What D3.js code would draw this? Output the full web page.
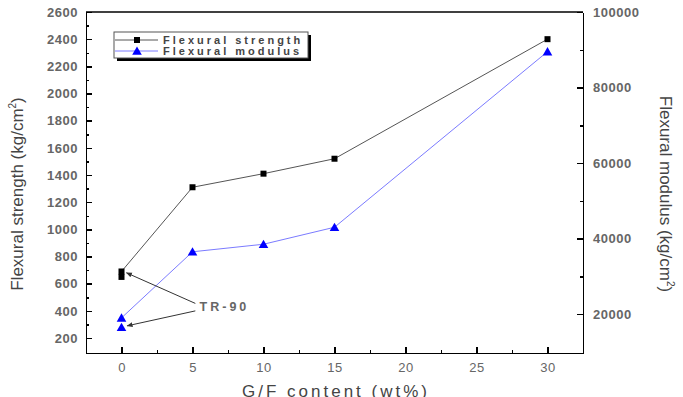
<!DOCTYPE html>
<meta charset="utf-8">
<style>
body { margin: 0; background: #fff; }
text { font-family: "Liberation Sans", Arial, sans-serif; }
.axis path, .axis line { stroke: #000; stroke-width: 1.5px; shape-rendering: crispEdges; }
.axis text { fill: #666; font-size: 13px; font-weight: bold; letter-spacing: 0.5px; }
.xaxis text { font-weight: normal; }
</style>
<svg width="683" height="397"></svg>
<script src="https://d3js.org/d3.v7.min.js"></script>
<script>

// G/F content (wt%), two TR-90 samples at 0
var gfContent = [0, 0, 5, 10, 15, 30];
var strength  = [650, 690, 1310, 1410, 1520, 2400];      // kg/cm2
var modulus   = [16500, 19000, 36500, 38500, 43000, 89500]; // kg/cm2

var xTicks = [0, 5, 10, 15, 20, 25, 30];
var xMinor = [2.5, 7.5, 12.5, 17.5, 22.5, 27.5];
var yLeftTicks = [200, 400, 600, 800, 1000, 1200, 1400, 1600, 1800, 2000, 2200, 2400, 2600];
var yLeftMinor = [300, 500, 700, 900, 1100, 1300, 1500, 1700, 1900, 2100, 2300, 2500];
var yRightTicks = [20000, 40000, 60000, 80000, 100000];
var yRightMinor = [30000, 50000, 70000, 90000];

var svg = d3.select("svg");
var pL = 86, pR = 583, pT = 12, pB = 353;

var x = d3.scaleLinear().domain([-2.5, 32.5]).range([pL, pR]);
var yL = d3.scaleLinear().domain([90, 2600]).range([pB, pT]);
var yR = d3.scaleLinear().domain([9700, 100000]).range([pB, pT]);

// top border
svg.append("line")
  .attr("x1", pL).attr("x2", pR).attr("y1", pT).attr("y2", pT)
  .attr("stroke", "#000").attr("stroke-width", 1.5);

// axes
svg.append("g").attr("class", "axis xaxis")
  .attr("transform", "translate(0," + pB + ")")
  .call(d3.axisBottom(x).tickValues(xTicks).tickSizeInner(-6).tickSizeOuter(0).tickPadding(10));
svg.append("g").attr("class", "axis")
  .attr("transform", "translate(0," + pB + ")")
  .call(d3.axisBottom(x).tickValues(xMinor).tickSizeInner(-3).tickSizeOuter(0).tickFormat(""));

svg.append("g").attr("class", "axis")
  .attr("transform", "translate(" + pL + ",0)")
  .call(d3.axisLeft(yL).tickValues(yLeftTicks).tickSizeInner(-6).tickSizeOuter(0).tickPadding(8).tickFormat(d3.format("d")));
svg.append("g").attr("class", "axis")
  .attr("transform", "translate(" + pL + ",0)")
  .call(d3.axisLeft(yL).tickValues(yLeftMinor).tickSizeInner(-3).tickSizeOuter(0).tickFormat(""));

svg.append("g").attr("class", "axis")
  .attr("transform", "translate(" + pR + ",0)")
  .call(d3.axisRight(yR).tickValues(yRightTicks).tickSizeInner(-6).tickSizeOuter(0).tickPadding(10).tickFormat(d3.format("d")));
svg.append("g").attr("class", "axis")
  .attr("transform", "translate(" + pR + ",0)")
  .call(d3.axisRight(yR).tickValues(yRightMinor).tickSizeInner(-3).tickSizeOuter(0).tickFormat(""));

// lines
var idx = d3.range(gfContent.length);
svg.append("path")
  .attr("d", d3.line().x(function(i) { return x(gfContent[i]); }).y(function(i) { return yL(strength[i]); })(idx.slice(1)))
  .attr("fill", "none").attr("stroke", "#555").attr("stroke-width", 1);
svg.append("path")
  .attr("d", d3.line().x(function(i) { return x(gfContent[i]); }).y(function(i) { return yR(modulus[i]); })(idx.slice(1)))
  .attr("fill", "none").attr("stroke", "#7b7bff").attr("stroke-width", 1);

// markers
svg.selectAll(".sq").data(idx).enter().append("rect")
  .attr("x", function(i) { return x(gfContent[i]) - 3; })
  .attr("y", function(i) { return yL(strength[i]) - 3; })
  .attr("width", 6).attr("height", 6).attr("fill", "#000");
var tri = d3.symbol().type(d3.symbolTriangle).size(40);
svg.selectAll(".tri").data(idx).enter().append("path")
  .attr("d", tri)
  .attr("transform", function(i) { return "translate(" + x(gfContent[i]) + "," + (yR(modulus[i]) + 1) + ")"; })
  .attr("fill", "#0000ff");

// TR-90 annotation
var defs = svg.append("defs");
defs.append("marker").attr("id", "ah").attr("viewBox", "0 0 10 10")
  .attr("refX", 9).attr("refY", 5).attr("markerWidth", 6).attr("markerHeight", 6)
  .attr("orient", "auto")
  .append("path").attr("d", "M0,1L10,5L0,9z").attr("fill", "#333");
var arrows = [
  { x1: 5.2, y1: 455, x2: 0.35, y2: 680 },
  { x1: 5.2, y1: 400, x2: 0.4, y2: 290 }
];
svg.selectAll(".arr").data(arrows).enter().append("line")
  .attr("x1", function(d) { return x(d.x1); }).attr("y1", function(d) { return yL(d.y1); })
  .attr("x2", function(d) { return x(d.x2); }).attr("y2", function(d) { return yL(d.y2); })
  .attr("stroke", "#333").attr("stroke-width", 1).attr("marker-end", "url(#ah)");
svg.append("text").attr("x", x(5.5)).attr("y", yL(430))
  .attr("dy", "0.35em").attr("fill", "#666")
  .style("font-size", "12.5px").style("font-weight", "bold").style("letter-spacing", "3px")
  .text("TR-90");

// legend
var lg = svg.append("g");
lg.append("rect").attr("x", 117).attr("y", 35).attr("width", 194).attr("height", 26).attr("fill", "#000");
lg.append("rect").attr("x", 114).attr("y", 32).attr("width", 194).attr("height", 26)
  .attr("fill", "#fff").attr("stroke", "#555").attr("stroke-width", 1);
var leg = [
  { name: "Flexural strength", color: "#555", y: 40, mark: "sq" },
  { name: "Flexural modulus", color: "#7b7bff", y: 51, mark: "tri" }
];
leg.forEach(function(d) {
  lg.append("line").attr("x1", 115).attr("x2", 158).attr("y1", d.y).attr("y2", d.y)
    .attr("stroke", d.color).attr("stroke-width", 1);
  if (d.mark === "sq") {
    lg.append("rect").attr("x", 134).attr("y", d.y - 3).attr("width", 6).attr("height", 6).attr("fill", "#000");
  } else {
    lg.append("path").attr("d", tri).attr("transform", "translate(137," + (d.y + 1) + ")").attr("fill", "#0000ff");
  }
  lg.append("text").attr("x", 163).attr("y", d.y).attr("dy", "0.35em")
    .attr("fill", "#444").style("font-size", "11px").style("font-weight", "bold").style("letter-spacing", "3px")
    .text(d.name);
});

// axis titles
var lt = svg.append("text")
  .attr("transform", "translate(23,194) rotate(-90)")
  .attr("text-anchor", "middle").attr("fill", "#444")
  .style("font-size", "17px");
lt.append("tspan").text("Flexural strength (kg/cm");
lt.append("tspan").attr("dy", -7).style("font-size", "10px").text("2");
lt.append("tspan").attr("dy", 7).text(")");

var rt = svg.append("text")
  .attr("transform", "translate(660,194) rotate(90)")
  .attr("text-anchor", "middle").attr("fill", "#444")
  .style("font-size", "17px");
rt.append("tspan").text("Flexural modulus (kg/cm");
rt.append("tspan").attr("dy", -7).style("font-size", "10px").text("2");
rt.append("tspan").attr("dy", 7).text(")");

svg.append("text").attr("x", 336).attr("y", 397)
  .attr("text-anchor", "middle").attr("fill", "#444")
  .style("font-size", "17px").style("letter-spacing", "3px")
  .text("G/F content (wt%)");

</script>
